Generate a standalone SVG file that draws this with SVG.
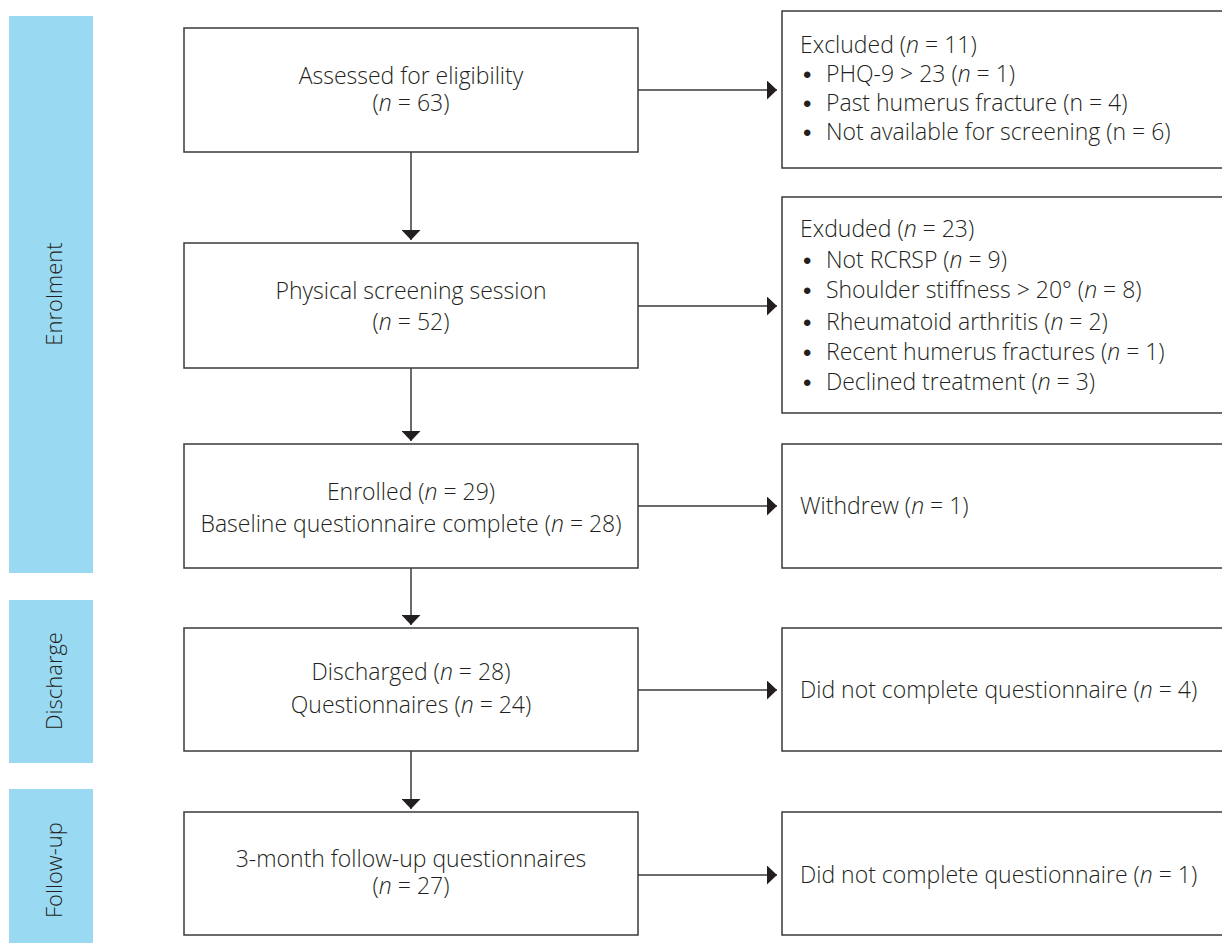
<svg xmlns="http://www.w3.org/2000/svg" width="1222" height="943" viewBox="0 0 1222 943">
<defs>
<marker id="ah" markerUnits="userSpaceOnUse" markerWidth="11" markerHeight="19" refX="10" refY="9.5" orient="auto">
<path d="M0,0 L10,9.5 L0,19 Z" fill="#231f20"/>
</marker>
<style>
.bar{fill:#99d9f2;}
.box{fill:#fff;stroke:#3a3a3a;stroke-width:1.5;}
.t{font-family:"Open Sans","Liberation Sans",sans-serif;font-size:23px;font-weight:300;fill:#231f20;}
.c{text-anchor:middle;}
.b{font-family:"Liberation Sans",sans-serif;font-size:24px;fill:#231f20;}
.lbl{font-family:"Open Sans","Liberation Sans",sans-serif;font-size:22px;font-weight:300;fill:#231f20;text-anchor:middle;}
.ln{stroke:#3a3a3a;stroke-width:1.5;fill:none;marker-end:url(#ah);}
.i{font-style:italic;}
</style>
</defs>
<rect width="1222" height="943" fill="#fff"/>

<g id="phase-enrolment">
<rect class="bar" x="9" y="16" width="84" height="557"/>
<text class="lbl" transform="translate(62,294) rotate(-90)">Enrolment</text>
</g>
<g id="phase-discharge">
<rect class="bar" x="9" y="600" width="84" height="163"/>
<text class="lbl" transform="translate(62,681) rotate(-90)">Discharge</text>
</g>
<g id="phase-followup">
<rect class="bar" x="9" y="789" width="84" height="154"/>
<text class="lbl" transform="translate(62,870) rotate(-90)">Follow-up</text>
</g>

<g id="connectors">
<line class="ln" x1="411" y1="152" x2="411" y2="240"/>
<line class="ln" x1="411" y1="368" x2="411" y2="441"/>
<line class="ln" x1="411" y1="568" x2="411" y2="625"/>
<line class="ln" x1="411" y1="751" x2="411" y2="809"/>
<line class="ln" x1="638" y1="90" x2="777" y2="90"/>
<line class="ln" x1="638" y1="306" x2="777" y2="306"/>
<line class="ln" x1="638" y1="506" x2="777" y2="506"/>
<line class="ln" x1="638" y1="690" x2="777" y2="690"/>
<line class="ln" x1="638" y1="875" x2="777" y2="875"/>
</g>

<g id="assessed">
<rect class="box" x="184" y="28" width="454" height="124"/>
<text class="t c" x="411" y="84">Assessed for eligibility</text>
<text class="t c" x="411" y="111">(<tspan class="i">n</tspan> = 63)</text>
</g>
<g id="screening">
<rect class="box" x="184" y="243" width="454" height="125"/>
<text class="t c" x="411" y="299">Physical screening session</text>
<text class="t c" x="411" y="330">(<tspan class="i">n</tspan> = 52)</text>
</g>
<g id="enrolled">
<rect class="box" x="184" y="444" width="454" height="124"/>
<text class="t c" x="411" y="500">Enrolled (<tspan class="i">n</tspan> = 29)</text>
<text class="t c" x="411" y="532">Baseline questionnaire complete (<tspan class="i">n</tspan> = 28)</text>
</g>
<g id="discharged">
<rect class="box" x="184" y="628" width="454" height="123"/>
<text class="t c" x="411" y="680">Discharged (<tspan class="i">n</tspan> = 28)</text>
<text class="t c" x="411" y="713">Questionnaires (<tspan class="i">n</tspan> = 24)</text>
</g>
<g id="followup">
<rect class="box" x="184" y="812" width="454" height="123"/>
<text class="t c" x="411" y="867">3-month follow-up questionnaires</text>
<text class="t c" x="411" y="894">(<tspan class="i">n</tspan> = 27)</text>
</g>

<g id="excluded1">
<rect class="box" x="782" y="11" width="460" height="157"/>
<text class="t" x="800" y="53">Excluded (<tspan class="i">n</tspan> = 11)</text>
<text class="b" x="803" y="83">•</text><text class="t" x="826" y="82">PHQ-9 &gt; 23 (<tspan class="i">n</tspan> = 1)</text>
<text class="b" x="803" y="112">•</text><text class="t" x="826" y="111">Past humerus fracture (n = 4)</text>
<text class="b" x="803" y="141">•</text><text class="t" x="826" y="140">Not available for screening (n = 6)</text>
</g>
<g id="excluded2">
<rect class="box" x="782" y="197" width="460" height="216"/>
<text class="t" x="800" y="237">Exduded (<tspan class="i">n</tspan> = 23)</text>
<text class="b" x="803" y="269">•</text><text class="t" x="826" y="268">Not RCRSP (<tspan class="i">n</tspan> = 9)</text>
<text class="b" x="803" y="299">•</text><text class="t" x="826" y="298">Shoulder stiffness &gt; 20° (<tspan class="i">n</tspan> = 8)</text>
<text class="b" x="803" y="331">•</text><text class="t" x="826" y="330">Rheumatoid arthritis (<tspan class="i">n</tspan> = 2)</text>
<text class="b" x="803" y="361">•</text><text class="t" x="826" y="360">Recent humerus fractures (<tspan class="i">n</tspan> = 1)</text>
<text class="b" x="803" y="391">•</text><text class="t" x="826" y="390">Declined treatment (<tspan class="i">n</tspan> = 3)</text>
</g>
<g id="withdrew">
<rect class="box" x="782" y="444" width="460" height="124"/>
<text class="t" x="800" y="514">Withdrew (<tspan class="i">n</tspan> = 1)</text>
</g>
<g id="noquest-discharge">
<rect class="box" x="782" y="628" width="460" height="123"/>
<text class="t" x="800" y="698">Did not complete questionnaire (<tspan class="i">n</tspan> = 4)</text>
</g>
<g id="noquest-followup">
<rect class="box" x="782" y="812" width="460" height="123"/>
<text class="t" x="800" y="883">Did not complete questionnaire (<tspan class="i">n</tspan> = 1)</text>
</g>
</svg>
